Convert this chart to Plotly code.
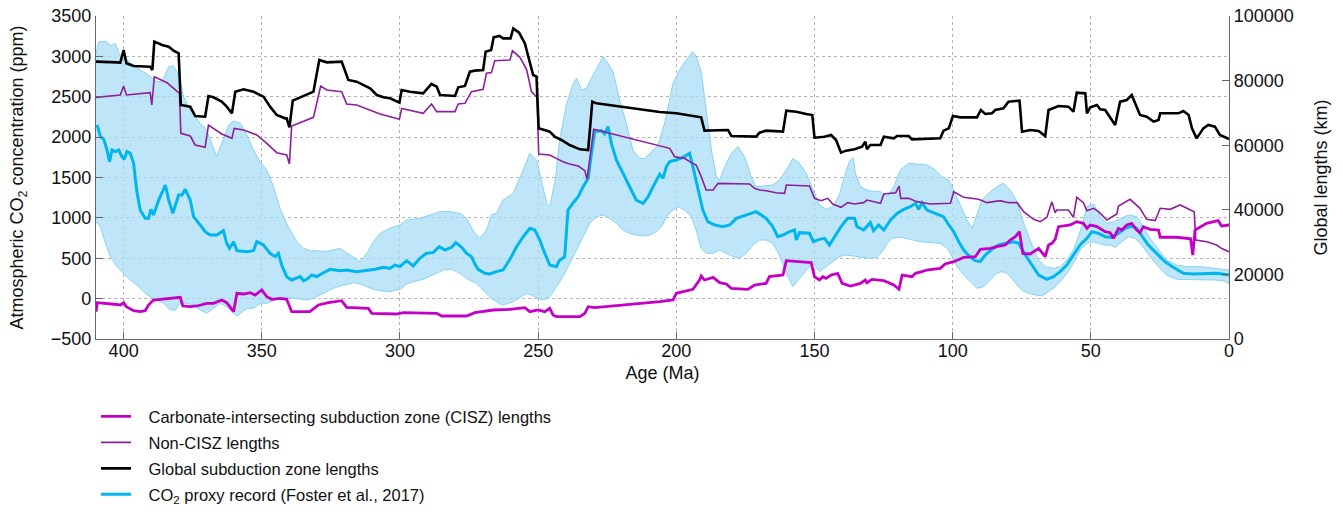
import plotly.graph_objects as go

# ---------------- data ----------------
# Global subduction zone lengths (km), age in Ma
global_age = [410, 405, 402.4, 401.2, 400, 399, 396.4, 390.4, 389.6, 388.9, 386.1, 383.7, 381.9, 380.1,
              379.3, 375.9, 374.1, 370.5, 369.3, 367.5, 364.5, 362.7, 360.8, 359.6, 356.6, 353.0, 349.4,
              347.0, 344.6, 341.6, 341.0, 340.0, 338.8, 336.1, 331.3, 329.2, 326.5, 321.1, 318.7, 315.7,
              310.8, 308.4, 306.0, 303.6, 300.2, 299.4, 296.4, 291.6, 288.6, 286.7, 285.5, 280.1, 278.9,
              276.5, 274.7, 272.9, 269.9, 269.0, 267.0, 266.1, 264.0, 262.7, 260.0, 259.0, 256.9, 254.8,
              253.6, 251.8, 250.6, 249.8, 245.8, 244.0, 241.6, 238.6, 234.9, 231.9, 230.4, 228.9, 206.0,
              200.0, 191.0, 189.8, 181.3, 180.1, 171.1, 169.9, 167.5, 161.4, 160.2, 156.6, 153.0, 150.8,
              150.0, 146.4, 144.0, 142.2, 140.4, 138.6, 135.5, 132.8, 131.6, 131.0, 129.8, 126.1, 124.9,
              121.3, 120.1, 115.9, 114.7, 104.5, 103.3, 101.4, 99.9, 97.2, 91.2, 89.8, 88.2, 85.8, 84.6,
              81.6, 79.8, 75.8, 74.9, 71.9, 68.9, 66.5, 65.3, 62.9, 61.7, 58.1, 56.3, 55.1, 52.0, 51.4,
              50.2, 47.8, 46.6, 44.8, 43.0, 41.2, 39.4, 37.0, 35.2, 33.4, 32.2, 29.8, 27.3, 25.5, 24.9,
              18.3, 16.5, 14.6, 13.4, 11.7, 9.3, 7.5, 5.1, 3.3, 0]
global_km = [85860, 85860, 85650, 85550, 89470, 85350, 84520, 84310, 83280, 92050, 91020, 90510, 89270, 88450,
             72450, 71930, 69040, 68830, 75230, 74820, 73480, 71930, 69870, 76570, 77300, 76570, 75030,
             71930, 69350, 68320, 68320, 65530, 73790, 74820, 76570, 86380, 85650, 85860, 80190, 79670,
             77600, 75540, 74820, 74510, 73170, 77090, 76570, 76060, 78950, 78120, 75540, 75230, 77910,
             78330, 82770, 83080, 83280, 88960, 89470, 93400, 93810, 93080, 93080, 96180, 94840, 91530,
             87930, 81730, 81220, 65220, 64190, 62640, 61610, 60060, 58720, 58510, 73480, 72960, 70300,
             69870, 68630, 64500, 64710, 62850, 62640, 63880, 64500, 64190, 70690, 70380, 69660, 69350,
             62330, 62640, 63160, 61610, 57690, 58310, 58720, 59540, 61090, 58720, 60060, 60060, 62640,
             62120, 62850, 62850, 61820, 62120, 64500, 65220, 69040, 68630, 68630, 70900, 69660, 69870, 70900,
             71410, 73480, 73790, 64190, 64710, 64400, 62850, 70900, 71720, 72140, 71930, 70380, 76260, 76060,
             69870, 71720, 72450, 71100, 70900, 68630, 66250, 73480, 73990, 75540, 71930, 69350, 68830, 67290,
             67810, 69870, 69870, 70590, 69350, 65220, 62120, 65220, 66250, 65730, 63160, 61920]

# Non-CISZ lengths (km)
noncisz_age = [410, 401.2, 400, 399, 390.4, 389.8, 388.9, 384.3, 381.9, 379.8, 379.3, 375.9, 374.1, 370.5,
               369.3, 364.5, 360.8, 360.0, 356.6, 351.8, 348.2, 344.6, 341.0, 340.0, 339.2, 331.3, 328.7,
               326.5, 321.1, 319.3, 315.7, 310.8, 307.2, 300.2, 299.4, 291.6, 288.6, 286.7, 280.1, 278.9,
               276.5, 274.1, 269.9, 268.7, 266.9, 265.7, 260.2, 259.3, 256.6, 254.2, 252.4, 251.2, 250.4,
               249.8, 245.8, 243.4, 241.0, 238.6, 235.5, 233.1, 232.3, 229.9, 206.0, 202.4, 200.6, 197.0,
               195.2, 192.8, 191.0, 189.2, 186.7, 184.9, 173.5, 171.7, 169.9, 167.5, 163.9, 160.8, 160.2,
               151.8, 150.0, 147.6, 145.2, 143.4, 140.4, 138.0, 135.5, 132.2, 131.0, 126.1, 124.9, 120.6,
               119.4, 118.8, 115.9, 112.9, 108.1, 100.8, 99.6, 96.0, 90.6, 87.6, 82.8, 79.8, 76.7, 74.3,
               70.7, 68.3, 65.9, 64.1, 62.9, 62.3, 58.1, 56.3, 55.1, 52.7, 51.4, 49.0, 47.2, 44.2, 40.6,
               40.0, 35.8, 32.2, 29.8, 26.7, 24.9, 21.3, 17.7, 15.3, 12.6, 12.0, 8.0, 4.5, 2.6, 0]
noncisz_km = [74820, 75540, 78330, 75540, 76260, 72450, 81220, 79360, 77600, 76060, 63670, 62850, 60060, 59340,
              66250, 63460, 62120, 65220, 64710, 63160, 60570, 57690, 56970, 54180, 65950, 68630, 78330,
              77090, 76570, 72760, 72450, 70900, 69660, 68010, 71410, 69870, 72760, 70380, 70380, 72760,
              72960, 76570, 77300, 82250, 82460, 86170, 86380, 89270, 87210, 83490, 76570, 75540, 74820,
              57280, 56970, 55930, 54900, 54180, 53560, 52120, 49430, 64910, 59750, 59030, 56450, 55930,
              54900, 53870, 50260, 46130, 46130, 48190, 47990, 46640, 46130, 45920, 45300, 45100, 47680,
              47370, 43550, 42830, 43550, 41800, 40760, 42210, 41800, 42210, 43030, 42000, 44890, 45300,
              47370, 43550, 43550, 42520, 41800, 42000, 45610, 43860, 43240, 42210, 42830, 42210, 42210, 39420,
              37050, 36330, 37670, 42520, 39110, 39940, 39940, 37670, 43860, 42210, 39730, 40460, 39420, 36840, 38700,
              41180, 43240, 40460, 37050, 36640, 40460, 40150, 41490, 40460, 39420, 30600, 30120, 29100, 28000, 27030]

# Carbonate-intersecting subduction zone (CISZ) lengths (km)
cisz_age = [410, 409.5, 404.3, 401.2, 400, 399, 396.4, 394.0, 392.2, 391.0, 389.2, 384.3, 380.7, 379.5,
            378.6, 375.9, 373.5, 369.9, 367.5, 364.5, 362.7, 360.2, 359.0, 356.6, 354.2, 352.4, 350.0,
            348.2, 346.4, 343.4, 341.0, 339.2, 332.6, 329.5, 325.9, 321.1, 319.3, 311.4, 310.2, 301.2,
            298.8, 286.7, 284.9, 275.9, 272.9, 269.9, 266.3, 260.2, 254.8, 253.0, 250.0, 247.6, 245.8,
            244.6, 243.4, 234.9, 233.1, 231.9, 229.5, 206.0, 201.2, 200.0, 196.4, 194.0, 191.6, 191.0,
            189.8, 186.7, 184.3, 181.9, 180.1, 174.1, 171.7, 167.5, 166.3, 161.4, 160.2, 151.2, 150.0,
            148.2, 147.0, 145.8, 144.0, 141.6, 140.0, 137.0, 133.4, 131.6, 131.0, 129.2, 124.9, 121.3,
            119.4, 118.3, 114.7, 113.5, 111.1, 109.3, 107.5, 104.5, 102.7, 99.6, 96.0, 91.8, 90.0, 86.4,
            84.0, 81.0, 79.2, 77.3, 75.8, 74.6, 71.9, 68.9, 66.5, 65.3, 64.1, 62.9, 61.7, 57.5, 55.1,
            52.7, 51.4, 50.2, 47.8, 44.8, 43.0, 41.8, 40.0, 38.8, 37.0, 35.2, 33.4, 32.2, 31.0, 28.6,
            25.5, 24.9, 18.9, 15.3, 13.9, 13.1, 12.3, 8.1, 3.9, 2.7, 0]
cisz_km = [8460, 11250, 10840, 10530, 11250, 10010, 8770, 8460, 8770, 10530, 12070, 12490, 12590, 12900,
           10220, 10010, 10220, 11040, 11040, 12070, 11250, 8460, 14140, 13930, 14340, 13620, 15170,
           13110, 12280, 12590, 12280, 8460, 8460, 10530, 11250, 11870, 9800, 9490, 7950, 7740,
           8150, 7950, 7120, 7120, 8150, 8460, 8980, 9180, 9700, 8460, 8980, 8460, 9490,
           7430, 6910, 6910, 7950, 10010, 9700, 11560, 12070, 14140, 14860, 15380, 18270, 19500,
           18270, 19090, 17440, 17030, 15690, 15380, 16720, 17230, 19300, 19810, 24250, 23630, 19300,
           18270, 19300, 18780, 19810, 20330, 17230, 16410, 17230, 18270, 17440, 18470, 18060, 16720,
           15380, 19810, 19300, 20330, 20850, 21360, 21570, 21880, 23220, 23940, 25280, 25490, 27760, 28070,
           28590, 29100, 30650, 31680, 33230, 26520, 26320, 28070, 25490, 29100, 29620, 30860, 34780, 35290, 36330,
           35810, 34260, 35290, 34780, 33230, 32920, 31170, 34260, 33750, 35290, 35810, 33750, 32920, 34780, 33950,
           33750, 31500, 31500, 31000, 31000, 26000, 33750, 35820, 36640, 34990, 35290]

# CO2 proxy record (ppm), central estimate
co2_age = [409.6, 408.4, 407.2, 406.0, 405.1, 404.2, 403.0, 401.8, 400.6, 399.8, 398.8, 397.6, 396.4, 395.2,
           394.0, 392.2, 391.0, 390.1, 389.2, 387.3, 384.9, 383.7, 382.2, 380.1, 378.9, 377.7, 375.9,
           374.7, 372.3, 370.5, 368.7, 366.3, 363.9, 362.7, 361.7, 360.2, 359.0, 355.4, 353.0, 351.8,
           349.4, 347.0, 345.2, 344.0, 342.8, 341.6, 341.0, 339.2, 337.3, 336.1, 334.9, 333.7, 331.9,
           330.1, 327.7, 325.3, 321.7, 319.3, 315.7, 312.0, 309.0, 306.0, 303.6, 301.8, 300.0, 297.6,
           295.2, 292.8, 290.4, 288.0, 285.8, 283.7, 281.3, 279.8, 277.7, 275.9, 274.1, 272.9, 271.7,
           269.3, 267.5, 265.1, 262.7, 260.2, 257.8, 255.4, 253.0, 251.2, 249.4, 247.6, 245.8, 243.4,
           242.4, 240.4, 239.2, 237.3, 235.5, 233.7, 231.9, 230.7, 229.5, 227.1, 225.9, 224.7, 223.5,
           221.7, 219.3, 216.9, 214.5, 212.0, 210.2, 208.4, 206.0, 204.8, 203.6, 202.4, 200.0, 197.6,
           195.2, 194.0, 192.2, 190.4, 188.6, 186.1, 183.1, 180.7, 178.3, 174.7, 171.1, 167.5, 165.1,
           163.3, 161.4, 159.0, 157.2, 156.6, 155.4, 151.8, 150.4, 148.2, 146.4, 144.6, 142.8, 140.4,
           138.0, 135.5, 134.6, 132.2, 129.8, 128.6, 126.8, 124.9, 122.5, 120.1, 117.7, 115.3, 113.5,
           112.3, 111.1, 109.3, 106.3, 103.3, 101.4, 99.6, 97.8, 96.0, 93.6, 91.8, 90.0, 88.2, 85.8,
           83.4, 80.4, 78.0, 76.1, 73.7, 71.3, 68.9, 66.5, 65.9, 63.5, 61.1, 58.7, 56.3, 53.9, 51.4,
           49.6, 47.2, 44.8, 42.4, 40.0, 37.6, 35.2, 33.4, 31.6, 29.2, 26.2, 23.2, 20.2, 16.5, 12.9,
           8.1, 4.5, 0]
co2_ppm = [2150, 2006, 1973, 1840, 1696, 1840, 1820, 1840, 1758, 1725, 1820, 1799, 1675, 1325,
           1097, 994, 994, 1105, 1036, 1221, 1407, 1221, 1056, 1283, 1283, 1353, 1221,
           1015, 912, 829, 788, 788, 842, 685, 623, 705, 594, 581, 594, 705,
           664, 561, 520, 561, 416, 313, 272, 231, 251, 272, 222, 239, 293,
           272, 321, 363, 346, 354, 334, 346, 363, 388, 375, 416, 396, 470,
           404, 499, 561, 569, 643, 602, 635, 693, 635, 561, 520, 429, 363,
           313, 305, 334, 354, 487, 643, 767, 870, 850, 726, 561, 416, 396,
           470, 520, 1097, 1188, 1263, 1387, 1490, 1799, 2068, 2080, 2039, 2129, 1923,
           1717, 1552, 1387, 1221, 1180, 1263, 1387, 1540, 1490, 1634, 1696, 1717, 1750,
           1799, 1634, 1345, 1097, 953, 912, 891, 912, 994, 1036, 1077, 994, 891,
           767, 788, 829, 850, 726, 817, 809, 705, 734, 747, 664, 767, 891,
           994, 994, 891, 850, 941, 842, 912, 850, 974, 1056, 1105, 1139, 1180,
           1105, 1188, 1097, 1056, 1015, 912, 829, 705, 602, 511, 470, 458, 540, 610,
           664, 685, 705, 685, 540, 416, 293, 251, 239, 272, 334, 416, 540, 664, 747,
           829, 809, 767, 759, 809, 870, 899, 870, 788, 664, 561, 458, 388, 313, 305,
           305, 313, 293]

# CO2 proxy uncertainty envelope (ppm)
band_up_age = [410, 409, 406, 404.8, 403, 401.2, 398.8, 396.4, 394.0, 391.0, 388.0, 386.1, 383.7, 381.9,
               380.1, 378.3, 375.9, 372.3, 369.9, 367.7, 366.3, 364.5, 362.0, 360.2, 357.8, 355.4, 353.0,
               350.6, 348.2, 345.8, 344.0, 343.4, 341.6, 339.8, 337.3, 334.9, 332.5, 330.1, 327.7, 325.3,
               321.7, 319.3, 316.9, 314.5, 312.0, 309.6, 307.2, 303.6, 300.0, 297.6, 292.8, 289.2, 285.5,
               281.9, 278.3, 275.9, 274.1, 272.9, 271.1, 268.7, 266.9, 265.1, 262.7, 259.0, 255.4, 253.0,
               250.6, 248.8, 246.9, 245.8, 243.8, 242.2, 239.8, 237.3, 236.1, 234.3, 232.5, 230.7, 228.3,
               226.5, 224.7, 222.9, 220.5, 218.1, 215.7, 213.3, 211.4, 209.0, 206.6, 204.0, 201.2, 198.8,
               196.4, 194.0, 192.8, 191.0, 189.2, 187.3, 185.5, 184.3, 182.5, 180.1, 177.7, 175.3, 172.9,
               171.1, 168.7, 165.1, 162.7, 160.2, 157.8, 155.4, 153.0, 150.6, 148.2, 145.8, 143.4, 141.0,
               139.2, 137.4, 136.0, 135.2, 133.4, 131.0, 128.6, 126.1, 123.7, 121.3, 118.9, 115.9, 112.9,
               109.3, 106.3, 103.9, 101.4, 99.6, 97.2, 94.8, 93.0, 91.2, 89.4, 86.4, 84.0, 81.6, 79.2,
               76.7, 74.3, 71.3, 68.9, 66.5, 63.5, 61.1, 58.7, 56.3, 53.9, 51.4, 49.0, 46.6, 44.2, 41.8,
               39.4, 36.4, 33.4, 31.0, 28.6, 25.5, 22.6, 18.9, 15.3, 10.5, 5.7, 0]
band_up_ppm = [3038, 3182, 3182, 3128, 3161, 2996, 2955, 2893, 2831, 2769, 2687, 2687, 2873, 2881,
               2769, 2501, 2336, 2171, 2088, 1882, 1758, 1923, 2150, 2200, 2171, 2026, 1840,
               1696, 1593, 1387, 1180, 1118, 974, 850, 705, 623, 594, 594, 581, 594,
               623, 569, 511, 458, 561, 705, 809, 870, 912, 974, 994, 1036, 1077,
               1077, 1056, 994, 891, 809, 747, 850, 1036, 1056, 1221, 1304, 1593, 1799,
               1717, 1448, 1180, 1139, 1469, 1964, 2398, 2666, 2728, 2584, 2604, 2728, 2873,
               2996, 2914, 2811, 2460, 2171, 1840, 1737, 1737, 1820, 1902, 2200, 2666, 2831,
               2955, 3058, 2996, 2811, 2336, 1840, 1510, 1469, 1634, 1799, 1882, 1758, 1510,
               1387, 1395, 1407, 1469, 1593, 1737, 1675, 1552, 1345, 1159, 1105, 1139, 1283,
               1510, 1696, 1745, 1552, 1387, 1345, 1325, 1325, 1263, 1387, 1593, 1675, 1667,
               1655, 1593, 1510, 1469, 1345, 1159, 974, 870, 1036, 1221, 1325, 1387, 1428, 1345,
               1201, 932, 664, 478, 396, 375, 396, 478, 602, 829, 1139, 1172, 1015, 932, 953,
               994, 1036, 1015, 891, 747, 602, 478, 416, 396, 396, 375, 354]

band_lo_age = [410, 408.4, 406.6, 404.8, 402.4, 400, 397.6, 395.2, 392.8, 390.4, 388.0, 385.5, 383.1, 381.3,
               379.5, 377.1, 374.7, 372.3, 369.9, 367.5, 365.1, 362.7, 360.2, 359.0, 357.2, 355.4, 353.0,
               350.6, 348.2, 345.8, 343.4, 341.0, 338.6, 336.1, 333.7, 331.3, 328.9, 326.5, 324.1, 321.7,
               319.3, 316.9, 314.5, 312.0, 309.6, 307.2, 303.6, 300.0, 297.6, 295.2, 291.6, 288.0, 284.3,
               281.3, 278.3, 275.9, 274.0, 272.3, 269.9, 267.5, 265.1, 263.3, 261.4, 259.0, 256.6, 254.2,
               252.4, 250.0, 248.2, 245.8, 243.4, 241.0, 238.6, 236.1, 233.7, 231.3, 228.9, 226.5, 224.1,
               221.7, 219.3, 216.9, 214.5, 212.0, 209.6, 207.2, 205.0, 203.6, 201.2, 199.4, 197.0, 194.6,
               192.8, 191.0, 189.2, 186.7, 184.3, 181.9, 179.5, 177.1, 174.7, 172.3, 169.9, 167.5, 165.1,
               162.7, 160.2, 157.8, 155.4, 153.0, 150.6, 148.2, 145.8, 143.4, 141.0, 138.6, 134.6, 132.2,
               129.8, 127.4, 125.5, 123.7, 121.9, 118.9, 115.3, 111.7, 108.1, 104.5, 102.0, 100.2, 98.4,
               96.0, 93.6, 91.2, 88.8, 86.4, 84.0, 82.2, 80.4, 78.6, 76.7, 74.9, 72.5, 70.1, 67.7, 65.9,
               63.5, 61.1, 58.7, 56.3, 53.9, 51.4, 49.0, 47.2, 45.4, 43.0, 41.2, 38.8, 36.4, 34.0, 31.6,
               28.6, 25.5, 22.6, 18.9, 15.3, 5.7, 2.0, 0]
band_lo_ppm = [953, 891, 685, 520, 396, 313, 231, 169, 87, 24, -17, -58, -141, -141,
               -58, -58, -79, -141, -182, -120, -58, -100, -182, -215, -162, -120, -120,
               -58, -58, -25, 4, 16, 4, -8, -17, 4, 45, 87, 127, 156,
               181, 198, 181, 148, 115, 98, 87, 115, 181, 210, 239, 293, 354,
               363, 313, 251, 215, 189, 107, 16, -37, -79, -66, -37, 16, 66,
               45, 4, -17, 24, 148, 272, 437, 602, 767, 932, 1015, 1036, 994,
               932, 850, 809, 788, 776, 788, 829, 910, 1015, 1097, 1139, 1097, 1015,
               850, 623, 561, 561, 602, 561, 520, 499, 561, 664, 726, 726, 685,
               540, 313, 148, 251, 354, 437, 334, 396, 458, 520, 540, 528, 511,
               499, 511, 581, 685, 747, 759, 734, 705, 693, 685, 623, 520, 396,
               293, 210, 127, 148, 231, 313, 334, 313, 251, 169, 107, 66, 45, 33, 74,
               127, 210, 313, 437, 602, 685, 705, 685, 664, 664, 635, 705, 767, 747, 664,
               520, 396, 293, 239, 231, 231, 222, 189]

x_ticks = [400, 350, 300, 250, 200, 150, 100, 50, 0]

# ---------------- styles ----------------
FONT = "Liberation Sans, Arial, Helvetica, sans-serif"
C_CISZ = "#c400c6"
C_NON = "#8e1f9c"
C_GLOBAL = "#000000"
C_CO2 = "#00b6ee"
C_BAND = "rgba(170,220,246,0.75)"
C_BAND_EDGE = "#86d3f4"
GRID = "#b5b5b5"
AXIS = "#666666"
SP = "\u00a0\u00a0\u2009"

fig = go.Figure()

# uncertainty envelope (polygon from upper edge and reversed lower edge)
fig.add_trace(go.Scatter(
    x=band_up_age + band_lo_age[::-1],
    y=band_up_ppm + band_lo_ppm[::-1],
    mode="lines", fill="toself", fillcolor=C_BAND,
    line=dict(color=C_BAND_EDGE, width=1),
    showlegend=False, hoverinfo="skip", yaxis="y"))

fig.add_trace(go.Scatter(
    x=co2_age, y=co2_ppm, mode="lines",
    line=dict(color=C_CO2, width=3),
    name=SP + "CO<sub>2</sub> proxy record (Foster et al., 2017)",
    legendrank=4, legendgroup="d", yaxis="y"))

fig.add_trace(go.Scatter(
    x=noncisz_age, y=noncisz_km, mode="lines",
    line=dict(color=C_NON, width=1.6),
    name=SP + "Non-CISZ lengths", legendrank=2, legendgroup="b", yaxis="y2"))

fig.add_trace(go.Scatter(
    x=global_age, y=global_km, mode="lines",
    line=dict(color=C_GLOBAL, width=2.6),
    name=SP + "Global subduction zone lengths", legendrank=3, legendgroup="c", yaxis="y2"))

fig.add_trace(go.Scatter(
    x=cisz_age, y=cisz_km, mode="lines",
    line=dict(color=C_CISZ, width=2.8),
    name=SP + "Carbonate-intersecting subduction zone (CISZ) lengths",
    legendrank=1, legendgroup="a", yaxis="y2"))

axis_common = dict(
    showline=True, linecolor=AXIS, linewidth=1.2,
    ticks="inside", ticklen=7, tickcolor=AXIS, tickwidth=1,
    zeroline=False, automargin=False, ticklabeloverflow="allow",
    tickfont=dict(family=FONT, size=18, color="#111111"),
)

fig.update_layout(
    width=1343, height=514,
    margin=dict(l=96, r=114, t=16, b=175, autoexpand=False),
    paper_bgcolor="white", plot_bgcolor="white",
    font=dict(family=FONT, color="#111111", size=18),
    xaxis=dict(range=[410, 0], tickvals=x_ticks, ticklabelstandoff=-5,
               showgrid=True, gridcolor=GRID, griddash="dot", gridwidth=1,
               title=dict(text="Age (Ma)", font=dict(family=FONT, size=18), standoff=6),
               **axis_common),
    yaxis=dict(range=[-500, 3500], dtick=500,
               showgrid=True, gridcolor=GRID, griddash="dot", gridwidth=1,
               title=dict(text="Atmospheric CO<sub>2</sub> concentration (ppm)",
                          font=dict(family=FONT, size=18), standoff=22),
               **axis_common),
    yaxis2=dict(range=[0, 100000], dtick=20000, overlaying="y", side="right",
                showgrid=False, tickformat="d",
                title=dict(text="Global lengths (km)", font=dict(family=FONT, size=18), standoff=21),
                **axis_common),
    legend=dict(x=0.0, y=0.2233, xref="paper", yref="container",
                xanchor="left", yanchor="top",
                traceorder="grouped", tracegroupgap=1.5,
                font=dict(family=FONT, size=16.5, color="#111111"),
                bgcolor="rgba(0,0,0,0)"),
    showlegend=True,
)

# remove the default page margin so the figure fills the window exactly
fig.write_html("out.html",
               config={"displayModeBar": False},
               post_script="document.body.style.margin='0';document.body.style.overflow='hidden';")
